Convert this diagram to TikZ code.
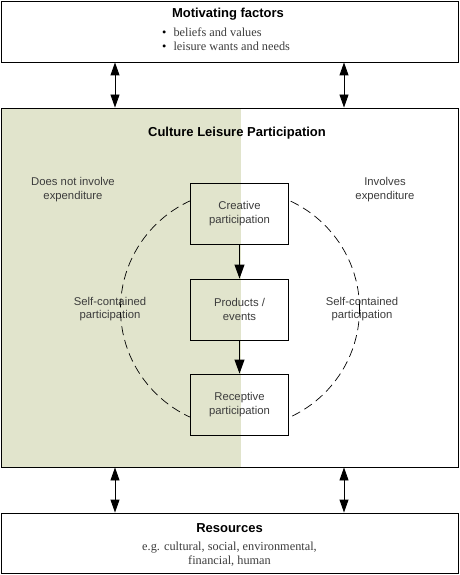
\documentclass[tikz,border=0pt]{standalone}
\usepackage{fontspec}
\setmainfont{Liberation Serif}
\setsansfont{Liberation Sans}
\usetikzlibrary{arrows.meta,shapes.geometric}
\definecolor{olivebg}{RGB}{225,228,204}
\definecolor{txtgray}{RGB}{60,60,60}
\begin{document}
\begin{tikzpicture}[x=1pt,y=-1pt,
  frame/.style={draw=black,line width=0.9pt},
  stagebox/.style={draw=black,line width=0.9pt,minimum width=98pt,minimum height=61pt,inner sep=0pt,
     font=\sffamily\fontsize{11.3}{13.5}\selectfont,text=txtgray,align=center},
  heading/.style={font=\sffamily\bfseries\fontsize{13}{15}\selectfont,inner sep=0pt},
  note/.style={font=\sffamily\fontsize{11.3}{13.5}\selectfont,text=txtgray,align=center,inner sep=0pt},
  sernote/.style={font=\rmfamily\fontsize{12.3}{14}\selectfont,text=txtgray,align=center,inner sep=0pt},
  dbl/.style={line width=0.9pt,{Triangle[length=13pt,width=9pt]}-{Triangle[length=13pt,width=9pt]}},
  flow/.style={line width=0.9pt,-{Triangle[length=14pt,width=10pt]}}]
\useasboundingbox (0,0) rectangle (459,575);
% green half
\fill[olivebg] (1,108) rectangle (241,467);
% boxes
\node[frame,minimum width=457pt,minimum height=61pt,inner sep=0pt] (top) at (229.5,31.5) {};
\node[frame,minimum width=457pt,minimum height=359pt,inner sep=0pt] (main) at (229.5,287.5) {};
\node[frame,minimum width=457pt,minimum height=60pt,inner sep=0pt] (bot) at (229.5,543) {};
% texts in top
\node[heading] (toptitle) at (228,14) {Motivating factors};
\node[sernote,align=left,anchor=west] (toplist) at (162,39)
  {\textcolor{black}{\textbullet}\hspace{7pt}beliefs and values\\\textcolor{black}{\textbullet}\hspace{7pt}leisure wants and needs};
% bottom texts
\node[heading] (bottitle) at (229.5,528) {Resources};
\node[sernote] (botlist) at (229.5,554) {e.g. cultural, social, environmental,\\financial, human};
% main title
\node[heading] (maintitle) at (237,133) {Culture Leisure Participation};
\node[note] (noexp) at (73,189.5) {Does not involve\\expenditure};
\node[note] (exp) at (385,189.5) {Involves\\expenditure};
\node[note] (selfl) at (110,309) {Self-contained\\participation};
\node[note] (selfr) at (362,309) {Self-contained\\participation};
% dashed circle
\node[draw=black,line width=0.7pt,dash pattern=on 9pt off 5pt,ellipse,minimum width=239pt,minimum height=238pt,inner sep=0pt] (circ) at (240,309) {};
% stage boxes, with background restored
\foreach \y in {213.5,309.5,404.5}{
  \begin{scope}
    \clip (190,\y-30.5) rectangle (289,\y+30.5);
    \fill[olivebg] (185,\y-35) rectangle (241,\y+35);
    \fill[white] (241,\y-35) rectangle (295,\y+35);
  \end{scope}
}
\node[stagebox] (creative) at (239.5,213.5) {Creative\\participation};
\node[stagebox] (products) at (239.5,309.5) {Products /\\events};
\node[stagebox] (receptive) at (239.5,404.5) {Receptive\\participation};
\draw[flow] (creative) -- (products);
\draw[flow] (products) -- (receptive);
% vertical double arrows
\coordinate (cl) at (115,0);
\coordinate (cr) at (344,0);
\draw[dbl] (top.south -| cl) -- (main.north -| cl);
\draw[dbl] (top.south -| cr) -- (main.north -| cr);
\draw[dbl] (main.south -| cl) -- (bot.north -| cl);
\draw[dbl] (main.south -| cr) -- (bot.north -| cr);
\end{tikzpicture}
\end{document}
